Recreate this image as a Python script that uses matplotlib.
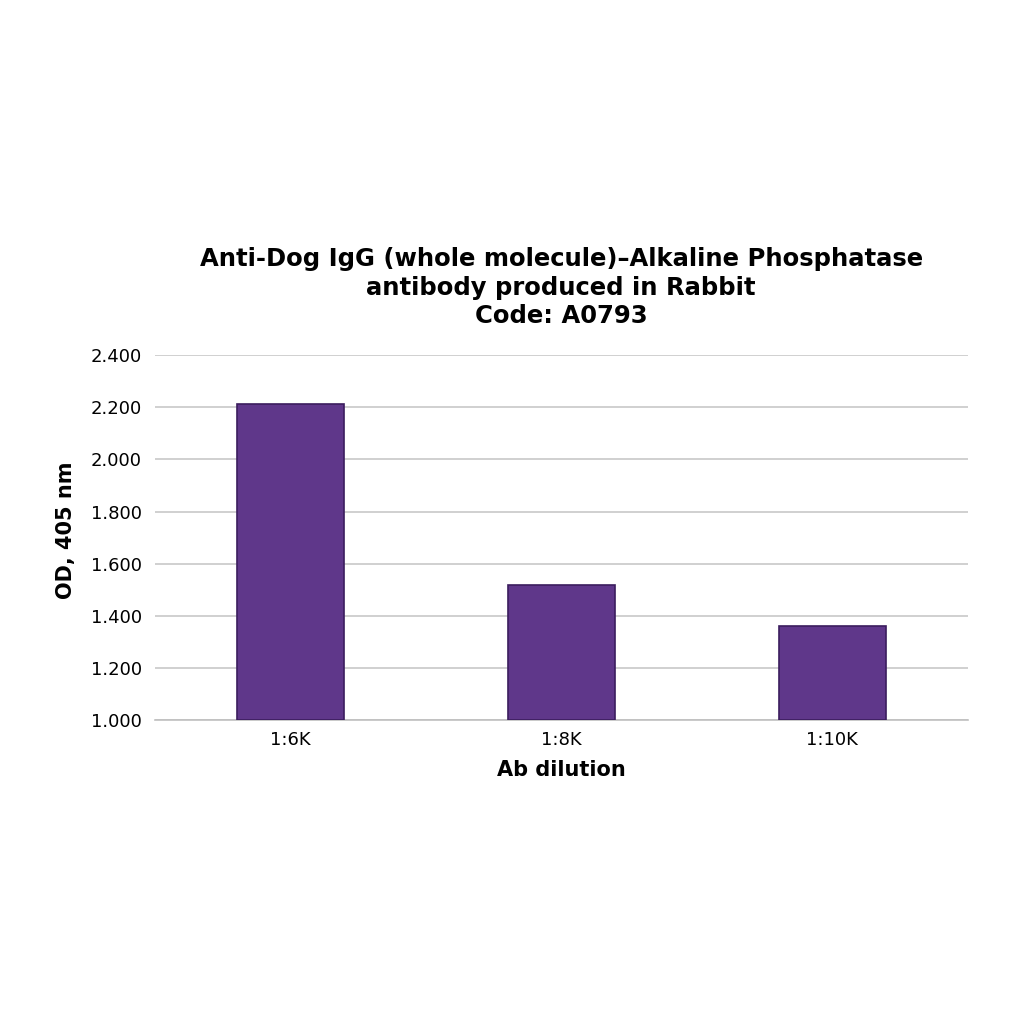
import matplotlib.pyplot as plt

dilutions = ["1:6K", "1:8K", "1:10K"]
od_values = [2.212, 1.518, 1.361]
y_ticks = [1.0, 1.2, 1.4, 1.6, 1.8, 2.0, 2.2, 2.4]

plt.rcParams['font.family'] = ['DejaVu Sans']

fig = plt.figure(figsize=(10.24, 10.24), dpi=100)
ax = fig.add_axes([0.151, 0.297, 0.794, 0.356])

ax.bar(range(len(dilutions)), [v - 1.0 for v in od_values], bottom=1.0, width=0.395,
       color="#5f378a", edgecolor="#3b1d5e", linewidth=1.2, zorder=3)

ax.set_xlim(-0.5, 2.5)
ax.set_ylim(1.0, 2.4)
ax.set_yticks(y_ticks)
ax.set_yticklabels(["%.3f" % t for t in y_ticks])
ax.set_xticks(range(len(dilutions)))
ax.set_xticklabels(dilutions)
ax.tick_params(axis='both', length=0, labelsize=13, colors="#000000")
ax.tick_params(axis='y', pad=9)
ax.tick_params(axis='x', pad=8)

ax.grid(axis='y', color="#c8c8c8", linewidth=1.2, zorder=0)
for s in ['top', 'right', 'left']:
    ax.spines[s].set_visible(False)
ax.spines['bottom'].set_color("#c0c0c0")
ax.spines['bottom'].set_linewidth(1.2)

ax.set_xlabel("Ab dilution", fontsize=15, fontweight='bold', labelpad=8)
ax.set_ylabel("OD, 405 nm", fontsize=15, fontweight='bold')
ax.yaxis.set_label_coords(-0.097, 0.52)

fig.text(0.548, 0.719, "Anti-Dog IgG (whole molecule)–Alkaline Phosphatase\nantibody produced in Rabbit\nCode: A0793",
         ha='center', va='center', fontsize=17.5, fontweight='bold', linespacing=1.25)

fig.savefig("out.png", dpi=100)
